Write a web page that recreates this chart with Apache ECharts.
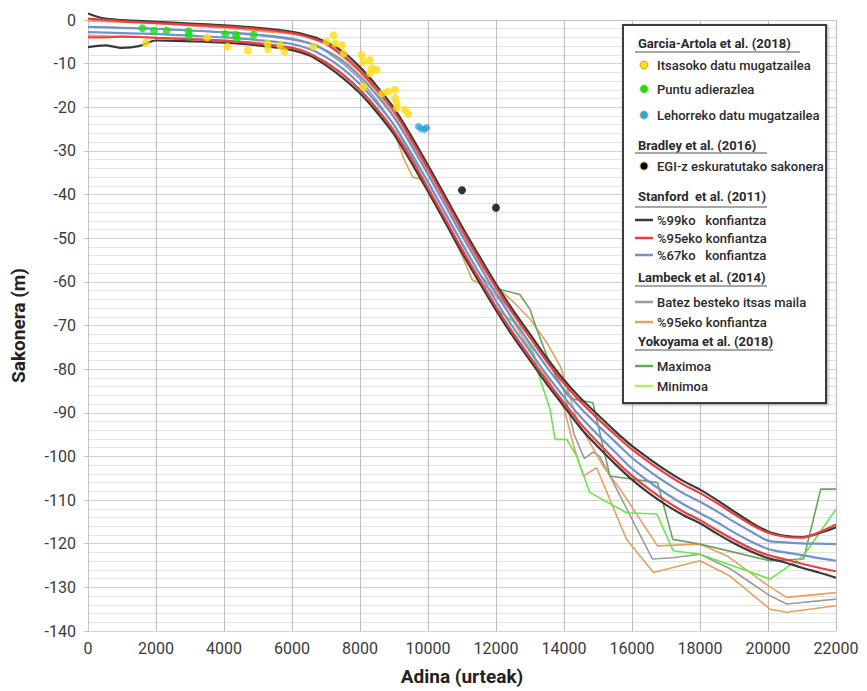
<!DOCTYPE html>
<html>
<head>
<meta charset="utf-8">
<script src="https://cdn.jsdelivr.net/npm/echarts@6/dist/echarts.min.js"></script>
<style>
  html, body { margin: 0; padding: 0; background: #ffffff; }
  #chart { width: 867px; height: 691px; }
</style>
</head>
<body>
<div id="chart"></div>
<script>
// ---- Stanford et al. (2011): confidence envelopes sampled on a common age grid ----
const stanfordAges = [0, 500, 1000, 1500, 2000, 3000, 4000, 5000, 6000, 6500, 7000, 7500, 8000, 8500, 9000, 9500,
  10000, 10500, 11000, 11500, 12000, 12500, 13000, 13500, 14000, 14500, 15000, 15500, 16000, 16500, 17000, 17500,
  18000, 18500, 19000, 19500, 20000, 20500, 21000, 21500, 22000];
const s99Upper = [1.5, 0.3, 0.0, -0.2, -0.4, -0.8, -1.2, -1.8, -2.7, -3.6, -5.0, -7.3, -10.8, -15.2, -20.2, -26.5,
  -33.3, -40.3, -47.3, -54.0, -60.5, -66.5, -72.0, -77.5, -82.5, -86.8, -90.5, -94.2, -97.6, -100.5, -103.2, -105.6,
  -107.6, -110.0, -112.6, -115.1, -117.2, -118.2, -118.5, -117.6, -116.2];
const s95Upper = [0.3, 0.0, -0.3, -0.5, -0.7, -1.1, -1.5, -2.1, -3.0, -4.0, -5.5, -8.1, -11.6, -16.0, -21.0, -27.3,
  -34.1, -41.1, -48.1, -54.8, -61.3, -67.3, -72.8, -78.3, -83.3, -87.6, -91.4, -95.0, -98.4, -101.3, -104.0, -106.4,
  -108.4, -110.7, -113.2, -115.6, -117.5, -118.4, -118.6, -117.4, -115.6];
const s67Upper = [-1.6, -1.7, -1.8, -1.9, -2.0, -2.4, -2.8, -3.4, -4.3, -5.3, -7.0, -9.4, -12.9, -17.3, -22.3, -28.6,
  -35.4, -42.4, -49.4, -56.1, -62.6, -68.6, -74.1, -79.6, -84.6, -89.0, -92.9, -96.6, -100.3, -103.3, -106.0, -108.4,
  -110.4, -112.6, -115.0, -117.2, -119.3, -119.7, -119.9, -120.0, -120.1];
const s67Lower = [-2.8, -2.9, -3.0, -3.1, -3.2, -3.6, -4.0, -4.6, -5.5, -6.6, -8.5, -11.2, -14.7, -19.1, -24.1, -30.4,
  -37.2, -44.2, -51.2, -57.9, -64.4, -70.4, -75.9, -81.4, -86.4, -91.0, -95.1, -99.0, -102.8, -105.8, -108.5, -110.9,
  -113.0, -115.1, -117.4, -119.5, -121.2, -122.0, -122.6, -123.3, -123.9];
const s95Lower = [-4.0, -4.0, -3.8, -3.9, -4.1, -4.4, -4.8, -5.4, -6.4, -7.6, -9.8, -12.5, -16.0, -20.4, -25.4, -31.7,
  -38.5, -45.5, -52.5, -59.2, -65.7, -71.7, -77.2, -82.7, -87.7, -92.6, -96.8, -100.8, -104.4, -107.5, -110.2, -112.6,
  -114.6, -116.9, -119.1, -121.1, -122.6, -123.6, -124.6, -125.5, -126.3];
const s99Lower = [-6.2, -5.8, -6.4, -6.0, -4.7, -4.9, -5.2, -5.8, -6.9, -8.1, -10.4, -13.3, -16.8, -21.2, -26.2, -32.5,
  -39.3, -46.3, -53.3, -60.0, -66.5, -72.5, -78.0, -83.5, -88.5, -93.6, -97.8, -101.7, -105.3, -108.4, -111.1, -113.4,
  -115.3, -117.7, -119.9, -121.8, -123.3, -124.3, -125.5, -126.6, -127.8];

// ---- Lambeck et al. (2014): [age, depth] ----
const lambeckMean = [[0, -1.5], [1000, -1.8], [2000, -2.0], [3000, -2.4], [4000, -2.9], [5000, -3.5], [6000, -4.5],
  [6700, -5.6], [7000, -7.2], [7500, -10.0], [8000, -13.5], [8500, -18.5], [9000, -24.0], [9500, -31.0], [10000, -37.0],
  [10500, -44.0], [11000, -51.0], [11500, -58.0], [12000, -62.5], [12500, -67.0], [13000, -72.0], [13500, -77.5],
  [14000, -85.0], [14300, -95.0], [14600, -100.5], [14850, -99.0], [15050, -100.0], [15550, -107.5], [16600, -123.5],
  [17200, -123.2], [18000, -122.4], [18900, -125.8], [20050, -131.9], [20550, -133.8], [22000, -132.7]];
const lambeckUpper = [[0, -0.2], [1000, -0.5], [2000, -0.8], [3000, -1.3], [4000, -1.8], [5000, -2.5], [6000, -3.2],
  [6730, -3.9], [7000, -5.5], [7500, -8.5], [8000, -12.0], [8500, -16.5], [9000, -22.0], [9500, -28.0], [10000, -35.0],
  [10500, -42.0], [11000, -49.0], [11500, -55.5], [12000, -61.0], [12500, -64.5], [13000, -68.5], [13500, -74.0],
  [13900, -79.5], [14100, -84.5], [14400, -92.0], [14700, -96.0], [15150, -102.2], [15650, -107.5], [16750, -120.5],
  [18000, -120.1], [18800, -122.8], [20000, -129.6], [20550, -132.3], [22000, -131.2]];
const lambeckLower = [[0, -3.5], [1000, -3.8], [2000, -4.0], [3000, -4.3], [4000, -4.6], [5000, -5.2], [6000, -6.2],
  [7000, -9.5], [7500, -12.5], [8000, -16.0], [8500, -20.5], [9000, -25.5], [9300, -32.0], [9550, -36.0], [9800, -36.5],
  [10000, -39.0], [10500, -46.0], [11000, -54.0], [11300, -59.5], [11800, -61.5], [12200, -65.0], [12500, -69.0],
  [13000, -75.5], [13500, -82.0], [14000, -89.0], [14300, -98.0], [14570, -104.5], [14960, -102.6], [15840, -119.0],
  [16630, -126.6], [18000, -123.9], [18880, -127.4], [20060, -135.0], [20550, -135.7], [22000, -134.2]];

// ---- Yokoyama et al. (2018): [age, depth] ----
const yokoyamaMax = [[11950, -61.4], [12700, -62.9], [13000, -66.3], [13200, -70.9], [13500, -77.0], [13800, -82.5],
  [14100, -86.0], [14300, -86.9], [14850, -87.7], [15350, -104.5], [16750, -106.0], [17200, -119.0], [18000, -120.1],
  [20050, -123.9], [21050, -123.5], [21550, -107.5], [22000, -107.5]];
const yokoyamaMin = [[12020, -66.3], [12700, -70.2], [13100, -76.2], [13300, -82.4], [13590, -89.2], [13735, -96.1],
  [14080, -96.1], [14370, -99.9], [14760, -108.3], [15840, -112.9], [16730, -113.2], [17210, -121.6], [18000, -122.4],
  [20060, -128.1], [21040, -122.8], [22000, -112.1]];

// ---- Garcia-Artola et al. (2018) and Bradley et al. (2016) points: [age, depth] ----
const marineLimiting = [[1700, -5.2], [3500, -4.0], [4100, -6.1], [4700, -7.0], [5280, -5.4], [5300, -6.7], [5650, -5.8],
  [5780, -7.2], [6630, -6.1], [7020, -5.0], [7215, -3.5], [7270, -5.4], [7470, -5.8], [7520, -7.7], [8050, -8.0],
  [8100, -9.6], [8290, -9.2], [8350, -11.0], [8490, -11.4], [8290, -12.2], [8100, -15.3], [8660, -16.8], [8830, -16.4],
  [9030, -16.0], [9030, -17.9], [9080, -19.0], [9080, -20.2], [9320, -20.6], [9420, -21.5]];
const indexPoints = [[1600, -1.9], [1940, -2.5], [2310, -2.4], [2960, -2.6], [2970, -3.5], [4040, -3.2], [4350, -3.4],
  [4370, -4.2], [4870, -3.4]];
const terrestrialLimiting = [[9720, -24.4], [9800, -24.9], [9900, -25.0], [9960, -24.7]];
const giaDepths = [[11000, -39], [12000, -43]];

// ---- axis ticks ----
const ageTicks = [0, 2000, 4000, 6000, 8000, 10000, 12000, 14000, 16000, 18000, 20000, 22000];
const depthTicks = [0, -10, -20, -30, -40, -50, -60, -70, -80, -90, -100, -110, -120, -130, -140];

const C = {
  s99: '#3a3a3a', s95: '#e8403f', s67: '#7391cc',
  lMean: '#9b9b9b', l95: '#e6a060',
  yMax: '#6fa062', yMin: '#66e84c',
  yellow: '#ffdc14', green: '#19e019', blue: '#2aa6e0', black: '#000000'
};

const pairUp = arr => stanfordAges.map((a, i) => [a, arr[i]]);

function lineSeries(name, data, color, width, smooth) {
  return {
    type: 'line', name: name, data: data, symbol: 'none', smooth: smooth || false, clip: false,
    lineStyle: { color: color, width: width }, emphasis: { disabled: true }, silent: true, z: 2
  };
}
function dotSeries(name, data, color, size, border) {
  return {
    type: 'scatter', name: name, data: data, symbolSize: size, z: 5,
    itemStyle: { color: color, borderColor: border || color, borderWidth: border ? 1 : 0 },
    emphasis: { disabled: true }, silent: true
  };
}

// ---- legend drawn as graphic elements ----
const LX = 623, LY = 25, LW = 203, LH = 378;
const FONT = 'Roboto, "Noto Sans", sans-serif';
const itemFont = { fontSize: 13, fontFamily: FONT, fontWeight: 500, fill: '#2a2a2a' };
const headFont = { fontSize: 13, fontFamily: FONT, fontWeight: 'bold', fill: '#2a2a2a' };
const legendRows = [
  { kind: 'head', text: 'Garcia-Artola et al. (2018)', y: 43, ul: 52, ulEnd: 800 },
  { kind: 'dot', text: 'Itsasoko datu mugatzailea', y: 65, color: C.yellow, border: '#e0a020' },
  { kind: 'dot', text: 'Puntu adierazlea', y: 89, color: C.green, border: '#9acb40' },
  { kind: 'dot', text: 'Lehorreko datu mugatzailea', y: 115, color: C.blue, border: '#b8b060' },
  { kind: 'head', text: 'Bradley et al. (2016)', y: 145, ul: 153, ulEnd: 767 },
  { kind: 'dot', text: 'EGI-z eskuratutako sakonera', y: 166, color: C.black, border: '#c8a050' },
  { kind: 'head', text: 'Stanford\u00a0\u00a0et al. (2011)', y: 196, ul: 207, ulEnd: 767 },
  { kind: 'line', text: '%99ko\u00a0\u00a0\u00a0konfiantza', y: 220, color: C.s99 },
  { kind: 'line', text: '%95eko konfiantza', y: 238, color: C.s95 },
  { kind: 'line', text: '%67ko\u00a0\u00a0\u00a0konfiantza', y: 255, color: C.s67 },
  { kind: 'head', text: 'Lambeck et al. (2014)', y: 277, ul: 286, ulEnd: 767 },
  { kind: 'line', text: 'Batez besteko itsas maila', y: 302, color: C.lMean },
  { kind: 'line', text: '%95eko konfiantza', y: 322, color: C.l95 },
  { kind: 'head', text: 'Yokoyama et al. (2018)', y: 341, ul: 350, ulEnd: 773 },
  { kind: 'line', text: 'Maximoa', y: 366, color: '#5cae55' },
  { kind: 'line', text: 'Minimoa', y: 386, color: '#a8f55a' }
];
const legendEls = [{
  type: 'rect', shape: { x: LX, y: LY, width: LW, height: LH },
  style: { fill: '#ffffff', stroke: '#3c3c3c', lineWidth: 2, shadowBlur: 3, shadowColor: 'rgba(0,0,0,0.35)', shadowOffsetX: 1, shadowOffsetY: 1 },
  z: 100
}];
legendRows.forEach(r => {
  if (r.kind === 'head') {
    legendEls.push({ type: 'text', z: 101, style: Object.assign({ text: r.text, x: 638, y: r.y, verticalAlign: 'middle' }, headFont) });
    legendEls.push({ type: 'line', z: 101, shape: { x1: 635, y1: r.ul, x2: r.ulEnd, y2: r.ul }, style: { stroke: '#8a8a8a', lineWidth: 1.5 } });
  } else {
    if (r.kind === 'dot') {
      legendEls.push({ type: 'circle', z: 101, shape: { cx: 644, cy: r.y, r: 4 }, style: { fill: r.color, stroke: r.border, lineWidth: 1 } });
    } else {
      legendEls.push({ type: 'line', z: 101, shape: { x1: 635, y1: r.y, x2: 653, y2: r.y }, style: { stroke: r.color, lineWidth: 2.5 } });
    }
    legendEls.push({ type: 'text', z: 101, style: Object.assign({ text: r.text, x: 657, y: r.y, verticalAlign: 'middle' }, itemFont) });
  }
});

const chart = echarts.init(document.getElementById('chart'), null, { renderer: 'svg', width: 867, height: 691 });
chart.setOption({
  animation: false,
  backgroundColor: '#ffffff',
  textStyle: { fontFamily: FONT },
  grid: { left: 88, right: 31, top: 20, bottom: 59, containLabel: false },
  xAxis: {
    type: 'value', min: ageTicks[0], max: ageTicks[ageTicks.length - 1], interval: 2000,
    name: 'Adina (urteak)', nameLocation: 'middle', nameGap: 36,
    nameTextStyle: { fontSize: 19, fontWeight: 'bold', color: '#222' },
    axisLine: { show: true, lineStyle: { color: '#c4c4c4', width: 1 } },
    axisTick: { show: false },
    axisLabel: { fontSize: 16, color: '#3a3a3a', margin: 9, formatter: v => ageTicks.includes(v) ? String(v) : '' },
    splitLine: { show: true, lineStyle: { color: '#bdbdbd', width: 1 } }
  },
  yAxis: {
    type: 'value', min: depthTicks[depthTicks.length - 1], max: depthTicks[0], interval: 10,
    name: 'Sakonera (m)', nameLocation: 'middle', nameGap: 60, nameRotate: 90,
    nameTextStyle: { fontSize: 19, fontWeight: 'bold', color: '#222' },
    axisLine: { show: true, lineStyle: { color: '#c4c4c4', width: 1 } },
    axisTick: { show: true, length: 4, lineStyle: { color: '#c4c4c4' } },
    axisLabel: { fontSize: 16, color: '#3a3a3a', margin: 12, formatter: v => depthTicks.includes(v) ? String(v) : '' },
    splitLine: { show: true, lineStyle: { color: '#d2d2d2', width: 1 } },
    minorTick: { show: false, splitNumber: 5 },
    minorSplitLine: { show: true, lineStyle: { color: '#e3e3e3', width: 1 } }
  },
  graphic: legendEls,
  series: [
    lineSeries('Batez besteko itsas maila', lambeckMean, C.lMean, 1.6),
    lineSeries('%95eko konfiantza (Lambeck)', lambeckUpper, C.l95, 1.6),
    lineSeries('%95eko konfiantza (Lambeck)', lambeckLower, C.l95, 1.6),
    lineSeries('Maximoa', yokoyamaMax, C.yMax, 1.6),
    lineSeries('Minimoa', yokoyamaMin, C.yMin, 1.6),
    lineSeries('%99ko konfiantza', pairUp(s99Upper), C.s99, 2.2, 0.3),
    lineSeries('%99ko konfiantza', pairUp(s99Lower), C.s99, 2.2, 0.3),
    lineSeries('%95eko konfiantza', pairUp(s95Upper), C.s95, 2.2, 0.3),
    lineSeries('%95eko konfiantza', pairUp(s95Lower), C.s95, 2.2, 0.3),
    lineSeries('%67ko konfiantza', pairUp(s67Upper), C.s67, 2.2, 0.3),
    lineSeries('%67ko konfiantza', pairUp(s67Lower), C.s67, 2.2, 0.3),
    dotSeries('Itsasoko datu mugatzailea', marineLimiting, C.yellow, 8),
    dotSeries('Puntu adierazlea', indexPoints, C.green, 8),
    dotSeries('Lehorreko datu mugatzailea', terrestrialLimiting, C.blue, 7),
    dotSeries('EGI-z eskuratutako sakonera', giaDepths, C.black, 8)
  ]
});
</script>
</body>
</html>
